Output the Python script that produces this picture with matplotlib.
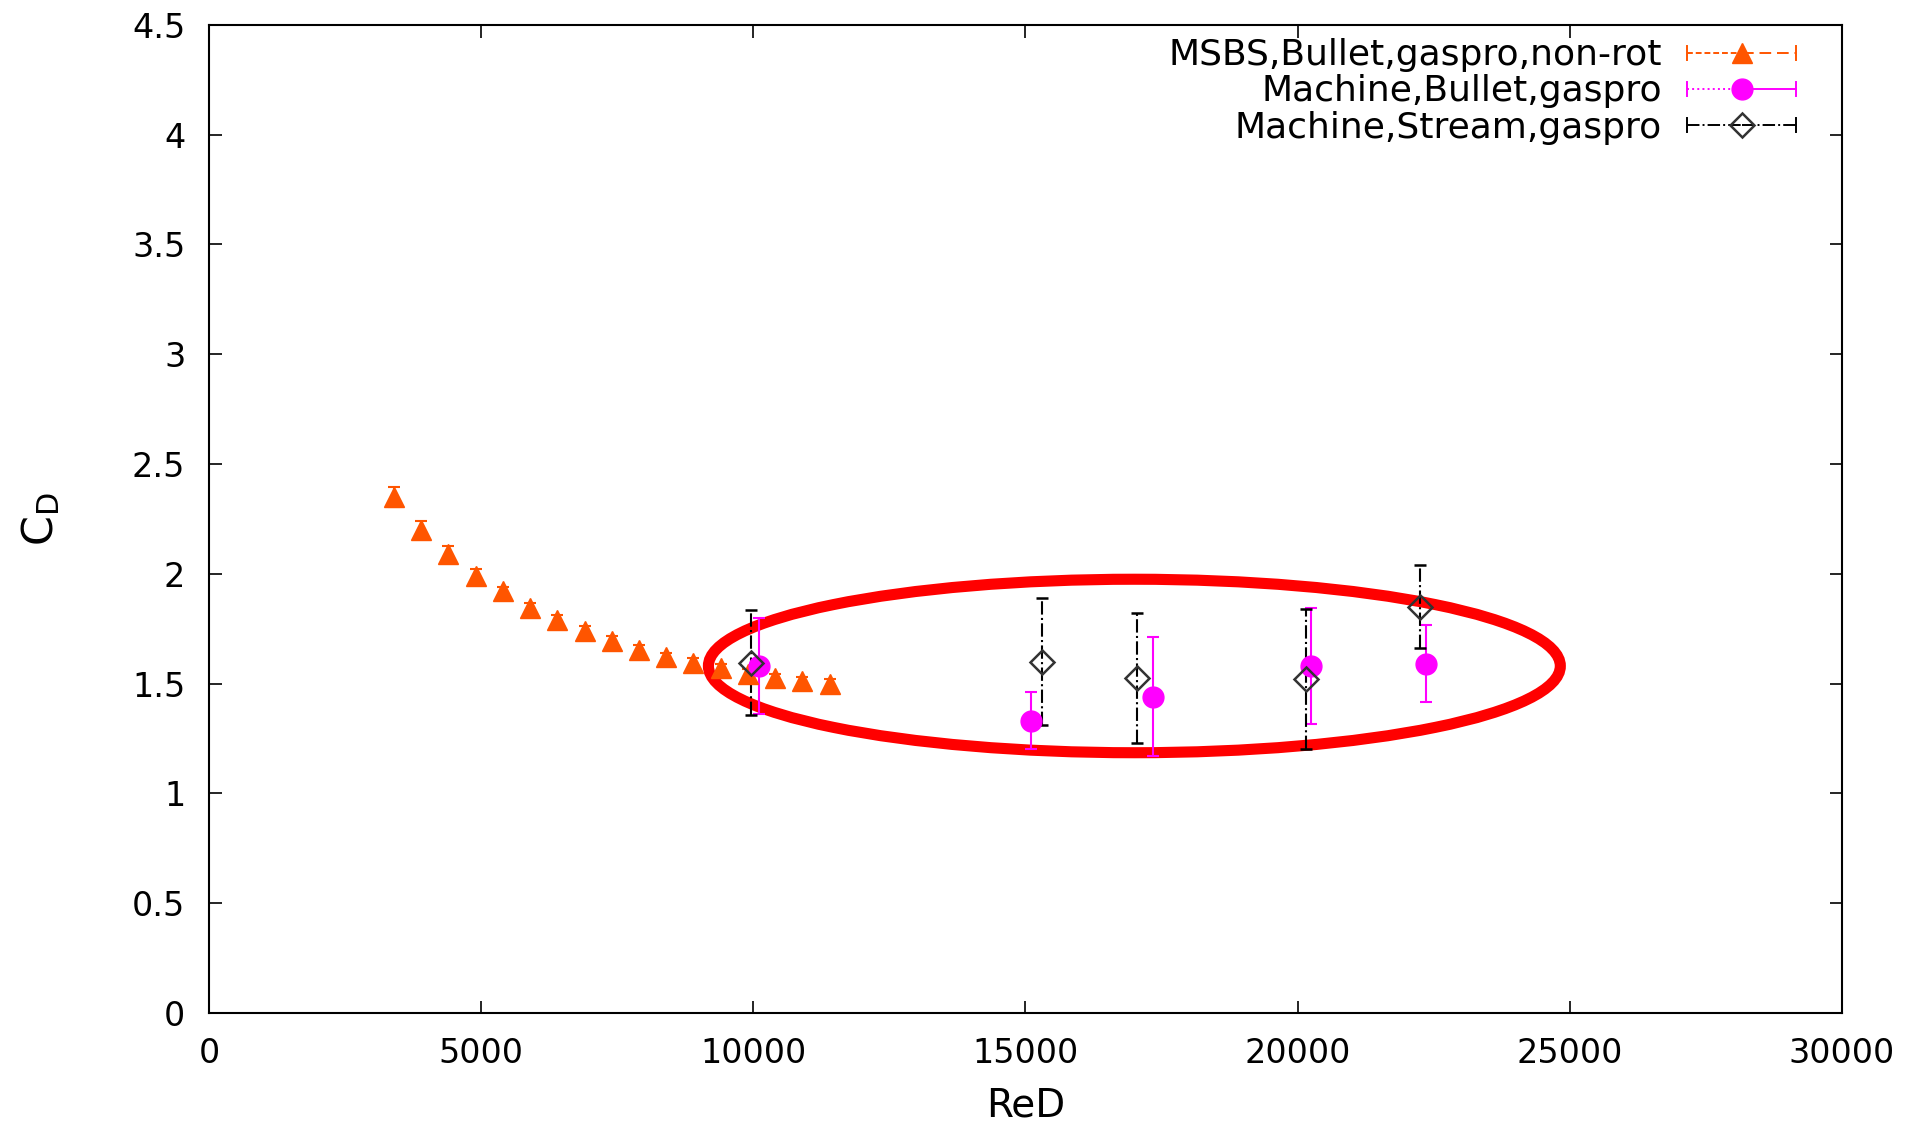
import numpy as np
import matplotlib
matplotlib.use("Agg")
import matplotlib.pyplot as plt
from matplotlib.patches import Ellipse
from matplotlib.lines import Line2D
from matplotlib.legend_handler import HandlerBase

plt.rcParams["font.family"] = ["DejaVu Sans"]

# MSBS, Bullet, gaspro, non-rot
msbs_re = [3400, 3900, 4400, 4900, 5400, 5900, 6400, 6900, 7400, 7900,
           8400, 8900, 9400, 9900, 10400, 10900, 11400]
msbs_cd = [2.35, 2.20, 2.09, 1.99, 1.92, 1.845, 1.79, 1.74, 1.695, 1.655,
           1.62, 1.595, 1.57, 1.545, 1.525, 1.51, 1.50]
msbs_err = [0.045, 0.04, 0.036, 0.03, 0.02, 0.02, 0.02, 0.02, 0.02, 0.02,
            0.02, 0.02, 0.02, 0.02, 0.02, 0.02, 0.02]

# Machine, Bullet, gaspro
bullet_re = [10100, 15100, 17350, 20250, 22350]
bullet_cd = [1.58, 1.33, 1.44, 1.58, 1.59]
bullet_err = [0.22, 0.13, 0.27, 0.265, 0.175]

# Machine, Stream, gaspro
stream_re = [9950, 15300, 17050, 20150, 22250]
stream_cd = [1.595, 1.60, 1.525, 1.52, 1.85]
stream_err = [0.24, 0.29, 0.295, 0.32, 0.19]

labels = ["MSBS,Bullet,gaspro,non-rot", "Machine,Bullet,gaspro",
          "Machine,Stream,gaspro"]

# highlight ellipse (data coords)
ell_center = (17000, 1.58)
ell_width = 15650
ell_height = 0.79

ORANGE = "#ff5500"
MAGENTA = "#ff00ff"


class ErrSample(HandlerBase):
    """gnuplot style key sample: two half lines, end ticks, marker in middle"""

    def __init__(self, color, ls_left, ls_right, mkw):
        super().__init__()
        self.color, self.ls_left, self.ls_right, self.mkw = color, ls_left, ls_right, mkw

    def create_artists(self, legend, orig, xd, yd, w, h, fontsize, trans):
        x0, x1 = -xd, -xd + w
        xm = (x0 + x1) / 2
        y = -yd + h / 2
        c = h * 0.28
        arts = [
            Line2D([x0, xm], [y, y], color=self.color, ls=self.ls_left, lw=1.4),
            Line2D([xm, x1], [y, y], color=self.color, ls=self.ls_right, lw=1.4),
            Line2D([x0, x0], [y - c, y + c], color=self.color, lw=1.4),
            Line2D([x1, x1], [y - c, y + c], color=self.color, lw=1.4),
            Line2D([xm], [y], ls="none", **self.mkw),
        ]
        for a in arts:
            a.set_transform(trans)
        return arts


fig = plt.figure(figsize=(19.26, 11.25), dpi=100)
ax = fig.add_axes([0.1085, 0.0996, 0.8479, 0.8784])

ax.errorbar(msbs_re, msbs_cd, yerr=msbs_err, fmt="^", color=ORANGE,
            ms=15, capsize=4.5, elinewidth=1.5, capthick=1.5)
ax.errorbar(bullet_re, bullet_cd, yerr=bullet_err, fmt="o", color=MAGENTA,
            ms=15, capsize=4.5, elinewidth=1.5, capthick=1.5)
eb = ax.errorbar(stream_re, stream_cd, yerr=stream_err, fmt="D", color="black",
                 mfc="none", mec="#333333", mew=1.8, ms=12.5, capsize=4,
                 elinewidth=1.5, capthick=1.5)
eb[2][0].set_linestyle("-.")

ax.add_patch(Ellipse(ell_center, ell_width, ell_height, fill=False,
                     edgecolor="#ff0000", linewidth=8))

ax.set_xlim(0, 30000)
ax.set_ylim(0, 4.5)
ax.set_xticks(np.arange(0, 30001, 5000))
ax.set_yticks(np.arange(0, 4.51, 0.5))
ax.set_yticklabels(["0", "0.5", "1", "1.5", "2", "2.5", "3", "3.5", "4", "4.5"])
ax.tick_params(direction="in", length=9, width=1.2, top=True, right=True,
               labelsize=24, pad=17)
for s in ax.spines.values():
    s.set_linewidth(1.5)

ax.set_xlabel("ReD", fontsize=28, labelpad=12)
ax.set_ylabel(r"C$_\mathrm{D}$", fontsize=31, labelpad=50)

handles = [Line2D([], []) for _ in labels]
hmap = {
    handles[0]: ErrSample(ORANGE, (0, (3, 1.5)), (0, (6, 3)),
                          dict(marker="^", color=ORANGE, ms=15)),
    handles[1]: ErrSample(MAGENTA, ":", "-",
                          dict(marker="o", color=MAGENTA, ms=15)),
    handles[2]: ErrSample("black", "-.", "-.",
                          dict(marker="D", mfc="none", mec="#333333",
                               mew=1.8, ms=12)),
}
ax.legend(handles, labels, handler_map=hmap, loc="upper right",
          bbox_to_anchor=(0.9324, 0.966), bbox_transform=fig.transFigure,
          frameon=False, markerfirst=False, fontsize=26, handlelength=3.0,
          handletextpad=0.7, labelspacing=0.06, borderpad=0, borderaxespad=0)

fig.savefig("out.png", dpi=100)
